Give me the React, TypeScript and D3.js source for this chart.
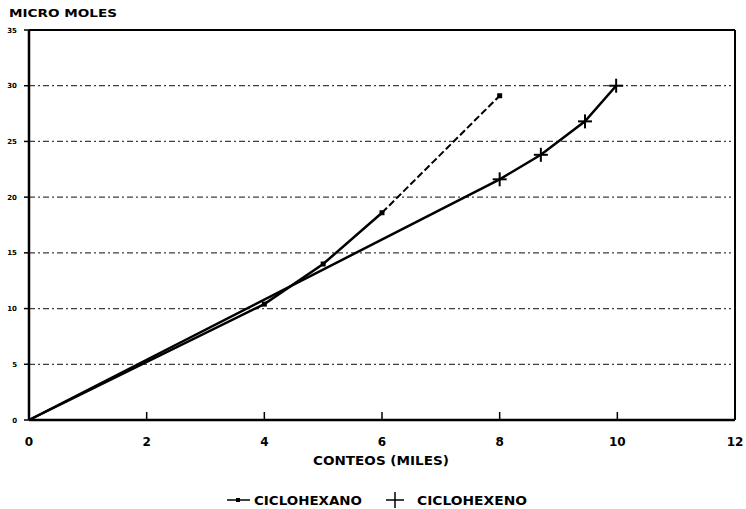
import React from "react";
import * as d3 from "d3";

// values (x = conteos en miles, y = micro moles)
const xTicks = [0, 2, 4, 6, 8, 10, 12];
const yTicks = [0, 5, 10, 15, 20, 25, 30, 35];

const ciclohexanoX = [0, 4, 5, 6, 8];
const ciclohexanoY = [0, 10.4, 14.0, 18.6, 29.1];

const ciclohexenoX = [0, 8, 8.7, 9.45, 9.98];
const ciclohexenoY = [0, 21.6, 23.8, 26.8, 30.0];

const width = 746;
const height = 509;
const margin = { top: 30, right: 11, bottom: 89, left: 29 };

const font = "'DejaVu Sans', 'Liberation Sans', Arial, sans-serif";

export default function App() {
  const x = d3.scaleLinear().domain([0, 12]).range([margin.left, width - margin.right]);
  const y = d3.scaleLinear().domain([0, 35]).range([height - margin.bottom, margin.top]);

  const line = d3.line<[number, number]>()
    .x(d => x(d[0]))
    .y(d => y(d[1]));

  const hexano = ciclohexanoX.map((v, i) => [v, ciclohexanoY[i]] as [number, number]);
  const hexeno = ciclohexenoX.map((v, i) => [v, ciclohexenoY[i]] as [number, number]);

  const x0 = x(0), x1 = x(12), y0 = y(0), y1 = y(35);

  return (
    <svg width={width} height={height} style={{ position: "absolute", left: 0, top: 0, background: "#fff" }}>
      {/* title */}
      <text x={9} y={17} fontFamily={font} fontWeight="bold" fontSize={11}
        textLength={108} lengthAdjust="spacingAndGlyphs">MICRO MOLES</text>

      {/* grid lines */}
      {yTicks.filter(t => t > 0 && t < 35).map(t => (
        <line key={"g" + t} x1={x0} x2={x1 - 4} y1={y(t)} y2={y(t)}
          stroke="#111" strokeWidth={1.2} strokeDasharray="6,3,2,3" opacity={0.8} />
      ))}

      {/* frame */}
      <line x1={x0} x2={x1} y1={y1} y2={y1} stroke="#000" strokeWidth={2} />
      <line x1={x1} x2={x1} y1={y1} y2={y0} stroke="#000" strokeWidth={2} />
      <line x1={x0} x2={x1} y1={y0} y2={y0} stroke="#000" strokeWidth={2.5} />
      <line x1={x0} x2={x0} y1={y1} y2={y0} stroke="#000" strokeWidth={2.5} />

      {/* y ticks */}
      {yTicks.map(t => (
        <g key={"y" + t}>
          <line x1={x0 - 5} x2={x0} y1={y(t)} y2={y(t)} stroke="#000" strokeWidth={1.5} />
          <text x={17} y={y(t) + 2.5} textAnchor="end" fontFamily={font} fontWeight="bold" fontSize={7}>{t}</text>
        </g>
      ))}

      {/* x ticks */}
      {xTicks.map(t => (
        <g key={"x" + t}>
          {t > 0 && t < 12 && <line x1={x(t)} x2={x(t)} y1={y0} y2={y0 - 8} stroke="#000" strokeWidth={1.5} />}
          <text x={x(t)} y={446} textAnchor="middle" fontFamily={font} fontWeight="bold" fontSize={12}>{t}</text>
        </g>
      ))}

      <text x={381} y={465} textAnchor="middle" fontFamily={font} fontWeight="bold" fontSize={12}
        textLength={136} lengthAdjust="spacingAndGlyphs">CONTEOS (MILES)</text>

      {/* series */}
      <path d={line(hexano.slice(0, 4)) ?? ""} fill="none" stroke="#000" strokeWidth={2.5} />
      <path d={line(hexano.slice(3)) ?? ""} fill="none" stroke="#000" strokeWidth={2} strokeDasharray="7,3" />
      {hexano.slice(1).map((d, i) => (
        <rect key={"m" + i} x={x(d[0]) - 2.5} y={y(d[1]) - 2.5} width={5} height={5} fill="#000" />
      ))}

      <path d={line(hexeno) ?? ""} fill="none" stroke="#000" strokeWidth={2.5} />
      {hexeno.slice(1).map((d, i) => (
        <g key={"p" + i} stroke="#000" strokeWidth={2}>
          <line x1={x(d[0]) - 7} x2={x(d[0]) + 7} y1={y(d[1])} y2={y(d[1])} />
          <line x1={x(d[0])} x2={x(d[0])} y1={y(d[1]) - 7} y2={y(d[1]) + 7} />
        </g>
      ))}

      {/* legend */}
      <g>
        <line x1={227} x2={250} y1={500} y2={500} stroke="#000" strokeWidth={1.5} />
        <rect x={236} y={498} width={4} height={4} fill="#000" />
        <text x={254} y={505} fontFamily={font} fontWeight="bold" fontSize={12}
          textLength={108} lengthAdjust="spacingAndGlyphs">CICLOHEXANO</text>
        <line x1={386} x2={404} y1={500} y2={500} stroke="#000" strokeWidth={1.5} />
        <line x1={395} x2={395} y1={492} y2={508} stroke="#000" strokeWidth={1.5} />
        <text x={417} y={505} fontFamily={font} fontWeight="bold" fontSize={12}
          textLength={110} lengthAdjust="spacingAndGlyphs">CICLOHEXENO</text>
      </g>
    </svg>
  );
}
